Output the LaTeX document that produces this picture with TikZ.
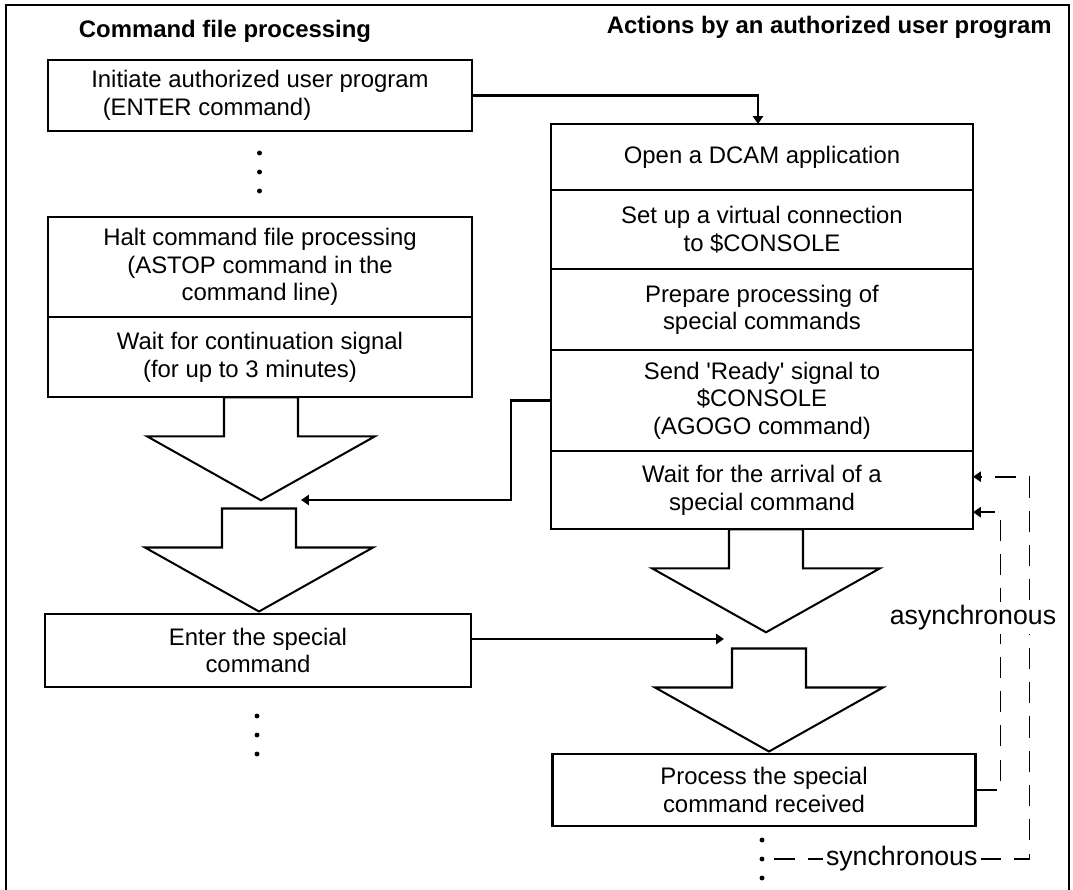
\documentclass[tikz,border=0pt]{standalone}
\usepackage{fontspec}
\setmainfont{Liberation Sans}
\usepackage{tikz}
\usetikzlibrary{
    arrows.meta,
    positioning,
    calc
}
\newcommand{\boxfont}{\fontsize{13.6}{15.7}\selectfont}
\newcommand{\lblfont}{\fontsize{15.2}{17}\selectfont}

\begin{document}
\begin{tikzpicture}[
    x=0.2mm, y=-0.2mm,
    box/.style={
        rectangle,
        draw,
        line width=1.15pt,
        outer sep=0pt,
        inner sep=2pt,
        align=center,
        font=\boxfont
    },
    title/.style={font=\boxfont\bfseries, inner sep=0pt},
    lbl/.style={fill=white, inner sep=2pt, font=\lblfont},
    blockline/.style={line width=1.15pt, line join=miter},
    conn/.style={line width=1.6pt, -{Triangle[length=4.5pt, width=5.8pt]}},
    dashline/.style={line width=1.1pt, dash pattern=on 12pt off 7.5pt,
        -{Triangle[length=4.5pt, width=5.8pt]}},
    frame/.style={line width=0.8pt},
    bigarrow/.pic={
        \draw[blockline] (-37,0) -- (-37,39) -- (-114,39) -- (0,103)
            -- (114,39) -- (37,39) -- (37,0) -- cycle;
        \coordinate (-tip) at (0,103);
    }
]
\useasboundingbox (0,0) rectangle (1073,890);

% ============================================================
% RAHMEN UND TITEL
% ============================================================
\draw[frame] (6,890) -- (6,5) -- (1069,5) -- (1069,890);

\node[title] (lefttitle) at (225,31) {Command file processing};
\node[title, anchor=east] (righttitle) at (1052,27) {Actions by an authorized user program};

% ============================================================
% LINKS: KOMMANDODATEI
% ============================================================
\node[box, align=left, minimum width=8.48cm, minimum height=1.42cm] (init) at (260,95.5)
    {Initiate authorized user program\\\hspace*{0.23cm}(ENTER command)};
\foreach \y in {153,172,191} \fill (259.5,\y) circle[radius=1.4pt];

\node[box, minimum width=8.48cm, minimum height=2.01cm] (halt) at (260,267)
    {Halt command file processing\\(ASTOP command in the\\command line)};
\node[box, minimum width=8.48cm, minimum height=1.6cm] (waitcont) at (260,357.3)
    {Wait for continuation signal\\(for up to 3 minutes)\hspace*{0.4cm}};

\pic (arrA) at (261,397.3) {bigarrow};
\pic (arrB) at (259,508.5) {bigarrow};

\node[box, minimum width=8.51cm, minimum height=1.45cm] (enter) at (258,650.5)
    {Enter the special\\command};
\foreach \y in {716,735,754} \fill (257,\y) circle[radius=1.4pt];

% ============================================================
% RECHTS: BENUTZERPROGRAMM
% ============================================================
\node[box, minimum width=8.44cm, minimum height=1.32cm] (open) at (762,157)
    {Open a DCAM application};
\node[box, minimum width=8.44cm, minimum height=1.59cm] (setup) at (762,229.7)
    {Set up a virtual connection\\to \$CONSOLE};
\node[box, minimum width=8.44cm, minimum height=1.61cm] (prep) at (762,309.7)
    {Prepare processing of\\special commands};
\node[box, minimum width=8.44cm, minimum height=2.02cm] (send) at (762,400.5)
    {Send \textquotesingle Ready\textquotesingle{} signal to\\\$CONSOLE\\(AGOGO command)};
\node[box, minimum width=8.44cm, minimum height=1.57cm] (waitcmd) at (762,490.2)
    {Wait for the arrival of a\\special command};

\pic (arrC) at (766,529.3) {bigarrow};
\pic (arrD) at (769,648.5) {bigarrow};

\node[box, minimum width=8.46cm, minimum height=1.44cm] (process) at (764,790)
    {Process the special\\command received};
\foreach \y in {840,859,878} \fill (762,\y) circle[radius=1.4pt];
\coordinate (moreR) at (762,859);

% ============================================================
% VERBINDUNGEN
% ============================================================
\coordinate (contin) at (301,500);
\coordinate (specin) at (724,639);

\draw[conn] (init.east) -| ([xshift=-0.08cm]open.north);
\draw[conn] (send.west) -- ++(-40,0) |- (contin);
\draw[conn] (enter.east |- specin) -- (specin);

% asynchron / synchron
\draw[dashline] (process.east) -- ++(25,0) |- ([yshift=-0.44cm]waitcmd.east);
\draw[dashline] (moreR) ++(12,0) -- node[lbl] {synchronous} ++(255.5,0)
    |- ([yshift=0.27cm]waitcmd.east);
\node[lbl] (asynclbl) at (973,618) {asynchronous};

\end{tikzpicture}
\end{document}
